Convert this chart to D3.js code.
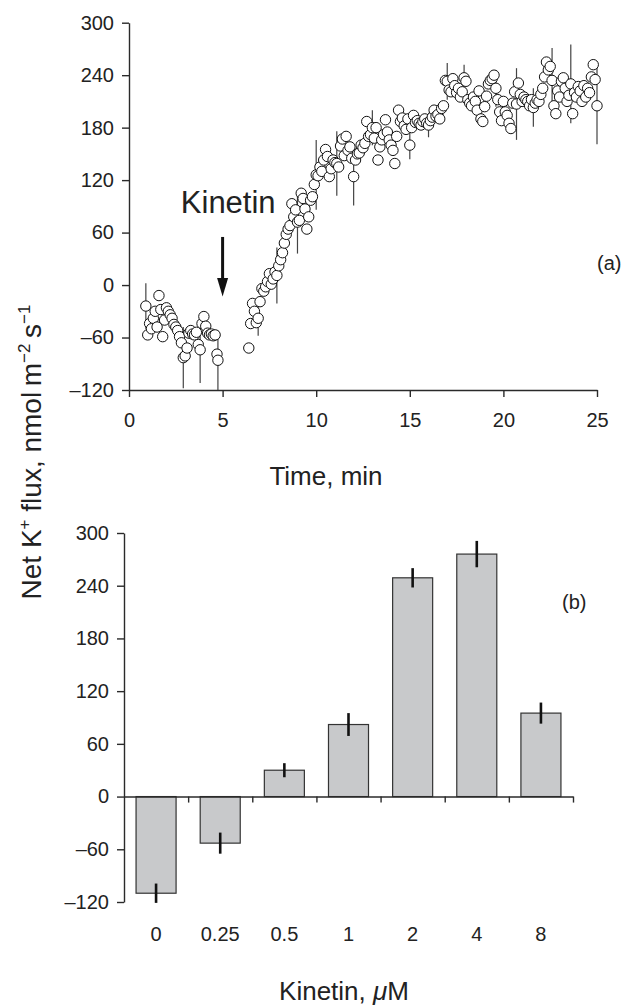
<!DOCTYPE html>
<html>
<head>
<meta charset="utf-8">
<script src="https://cdn.jsdelivr.net/npm/d3@7"></script>
<style>
  body { margin:0; background:white; }
  svg text { font-family: "Liberation Sans", Arial, sans-serif; fill:#222; }
</style>
</head>
<body>
<div id="chart"></div>
<script>
// (a) net K+ flux time course, kinetin added at 5 min
var timeMin = [
  0.9,1.0,1.1,1.2,1.3,1.4,1.5,1.6,1.7,1.8,1.9,2.0,2.1,2.2,2.3,2.4,2.5,2.6,2.7,2.8,
  2.9,3.0,3.1,3.2,3.3,3.4,3.5,3.6,3.7,3.8,3.9,4.0,4.1,4.2,4.3,4.4,4.5,4.6,4.7,4.75,
  6.4,6.5,6.6,6.7,6.8,6.9,7.0,7.1,7.2,7.3,7.4,7.5,7.6,7.7,7.8,7.9,8.0,8.1,8.2,8.3,
  8.4,8.5,8.6,8.7,8.8,8.9,9.0,9.1,9.2,9.3,9.4,9.5,9.6,9.7,9.8,9.9,10.0,10.1,10.2,10.3,
  10.4,10.5,10.6,10.7,10.8,10.9,11.0,11.1,11.2,11.3,11.4,11.5,11.6,11.7,11.8,11.9,12.0,12.1,12.2,12.3,
  12.4,12.5,12.6,12.7,12.8,12.9,13.0,13.1,13.2,13.3,13.4,13.5,13.6,13.7,13.8,13.9,14.0,14.1,14.2,14.3,
  14.4,14.5,14.6,14.7,14.8,14.9,15.0,15.1,15.2,15.3,15.4,15.5,15.6,15.7,15.8,15.9,16.0,16.1,16.2,16.3,
  16.4,16.5,16.6,16.7,16.8,16.9,17.0,17.1,17.2,17.3,17.4,17.5,17.6,17.7,17.8,17.9,18.0,18.1,18.2,18.3,
  18.4,18.5,18.6,18.7,18.8,18.9,19.0,19.1,19.2,19.3,19.4,19.5,19.6,19.7,19.8,19.9,20.0,20.1,20.2,20.3,
  20.4,20.5,20.6,20.7,20.8,20.9,21.0,21.1,21.2,21.3,21.4,21.5,21.6,21.7,21.8,21.9,22.0,22.1,22.2,22.3,
  22.4,22.5,22.6,22.7,22.8,22.9,23.0,23.1,23.2,23.3,23.4,23.5,23.6,23.7,23.8,23.9,24.0,24.1,24.2,24.3,
  24.4,24.5,24.6,24.7,24.8,24.9,25.0
];
var fluxK = [
  -24,-57,-44,-50,-38,-30,-48,-12,-28,-59,-40,-26,-30,-34,-38,-45,-48,-52,-59,-66,
  -83,-81,-72,-55,-52,-56,-57,-54,-68,-74,-44,-36,-47,-55,-57,-56,-58,-57,-79,-86,
  -72,-44,-21,-30,-43,-38,-19,-4,-7,-2,4,13,1,7,15,11,22,29,37,48,
  58,64,68,93,78,86,72,74,105,99,87,64,78,97,101,115,126,125,135,130,
  143,155,147,124,133,143,140,139,135,159,167,148,170,154,158,145,124,143,150,151,
  160,157,162,187,170,172,180,168,180,143,158,166,172,189,175,166,160,154,139,170,
  200,187,191,182,178,190,160,180,194,186,188,185,183,187,190,185,183,188,192,200,
  193,195,190,202,205,234,233,223,221,236,228,220,225,215,221,237,233,212,208,205,
  215,210,200,222,190,187,204,216,230,234,236,240,225,212,198,188,210,198,194,185,
  179,208,221,207,231,218,210,215,212,210,205,212,203,208,212,210,218,225,238,255,
  246,250,234,205,196,222,215,233,237,225,210,217,230,196,220,215,227,222,210,228,
  215,225,220,238,252,235,205
];
// error bars drawn at selected points only
var errTime = [0.9, 2.9, 3.8, 4.75, 6.9, 7.9, 9.0, 10.0, 11.1, 12.0, 13.0, 15.0, 16.0, 17.0, 17.9, 19.6, 20.7, 21.6, 22.6, 23.6, 25.0];
var errMean = [-24, -83, -74, -86, -38, 11, 72, 126, 139, 124, 180, 160, 183, 233, 237, 225, 207, 203, 234, 230, 205];
var errSd   = [26, 35, 38, 34, 20, 32, 36, 40, 37, 33, 20, 16, 14, 21, 15, 21, 41, 22, 37, 45, 44];

// (b) flux vs kinetin concentration
var kinetinConc = ["0", "0.25", "0.5", "1", "2", "4", "8"];
var fluxMean = [-110, -53, 30, 82, 249, 276, 95];
var fluxErr  = [11, 12, 8, 13, 11, 15, 12];

var fluxTicks = [-120, -60, 0, 60, 120, 180, 240, 300];
var timeTicks = [0, 5, 10, 15, 20, 25];

var W = 624, H = 1005;
var axisColor = '#2a2a2a';
var fmt = function(d) { return d < 0 ? '\u2013' + Math.abs(d) : d; };

var svg = d3.select('#chart').append('svg')
  .attr('width', W)
  .attr('height', H);

function styleAxis(g, fs) {
  g.selectAll('path, line').attr('stroke', axisColor).attr('stroke-width', 1.4);
  g.selectAll('text').attr('font-size', fs).attr('fill', '#222')
    .style('font-family', '"Liberation Sans", Arial, sans-serif');
}

// ---------- panel (a) ----------
var x = d3.scaleLinear().domain([0, 25]).range([129, 597]);
var y = d3.scaleLinear().domain([-120, 300]).range([390, 22.7]);

svg.append('g')
  .attr('transform', 'translate(0,' + y(-120) + ')')
  .call(d3.axisBottom(x).tickValues(timeTicks).tickSize(7).tickPadding(16).tickSizeOuter(0))
  .call(styleAxis, 20);

svg.append('g')
  .attr('transform', 'translate(' + x(0) + ',0)')
  .call(d3.axisLeft(y).tickValues(fluxTicks).tickFormat(fmt).tickSize(7).tickPadding(8).tickSizeOuter(0))
  .call(styleAxis, 20);

var pts = timeMin.map(function(t, i) { return {t: t, v: fluxK[i]}; });
var errs = errTime.map(function(t, i) { return {t: t, m: errMean[i], s: errSd[i]}; });

svg.append('g').selectAll('line')
  .data(errs)
  .enter().append('line')
    .attr('x1', function(d) { return x(d.t); })
    .attr('x2', function(d) { return x(d.t); })
    .attr('y1', function(d) { return y(d.m + d.s); })
    .attr('y2', function(d) { return y(d.m - d.s); })
    .attr('stroke', '#444')
    .attr('stroke-width', 1.2);

svg.append('g').selectAll('circle')
  .data(pts)
  .enter().append('circle')
    .attr('cx', function(d) { return x(d.t); })
    .attr('cy', function(d) { return y(d.v); })
    .attr('r', 5.2)
    .attr('fill', 'white')
    .attr('stroke', '#111')
    .attr('stroke-width', 1);

// kinetin arrow + label
var ax = x(5);
svg.append('line')
  .attr('x1', ax).attr('x2', ax)
  .attr('y1', y(55)).attr('y2', y(8))
  .attr('stroke', '#111').attr('stroke-width', 3);
svg.append('path')
  .attr('d', 'M' + (ax - 5.5) + ',' + y(8) + 'L' + (ax + 5.5) + ',' + y(8) + 'L' + ax + ',' + y(-13) + 'Z')
  .attr('fill', '#111');
svg.append('text')
  .attr('x', x(5.3)).attr('y', y(82))
  .attr('text-anchor', 'middle')
  .attr('font-size', 31)
  .text('Kinetin');

svg.append('text')
  .attr('x', 597).attr('y', 270)
  .attr('font-size', 20)
  .text('(a)');

svg.append('text')
  .attr('x', 326).attr('y', 485)
  .attr('text-anchor', 'middle')
  .attr('font-size', 26)
  .text('Time, min');

// ---------- panel (b) ----------
var xb = d3.scaleBand().domain(kinetinConc).range([124, 573]).paddingInner(0.376).paddingOuter(0.188);
var yb = d3.scaleLinear().domain([-120, 300]).range([902, 533]);
var step = xb.step();

svg.append('g').selectAll('rect')
  .data(fluxMean)
  .enter().append('rect')
    .attr('x', function(d, i) { return xb(kinetinConc[i]); })
    .attr('width', xb.bandwidth())
    .attr('y', function(d) { return yb(Math.max(0, d)); })
    .attr('height', function(d) { return Math.abs(yb(d) - yb(0)); })
    .attr('fill', '#c8c9cb')
    .attr('stroke', '#333')
    .attr('stroke-width', 1.2);

svg.append('g').selectAll('line')
  .data(fluxMean)
  .enter().append('line')
    .attr('x1', function(d, i) { return xb(kinetinConc[i]) + xb.bandwidth() / 2; })
    .attr('x2', function(d, i) { return xb(kinetinConc[i]) + xb.bandwidth() / 2; })
    .attr('y1', function(d, i) { return yb(d + fluxErr[i]); })
    .attr('y2', function(d, i) { return yb(d - fluxErr[i]); })
    .attr('stroke', '#111')
    .attr('stroke-width', 2.6);

// zero line with ticks at category boundaries
var bounds = d3.scaleLinear().domain([0, kinetinConc.length]).range([124, 124 + step * kinetinConc.length]);
svg.append('g')
  .attr('transform', 'translate(0,' + yb(0) + ')')
  .call(d3.axisBottom(bounds).tickValues(d3.range(1, kinetinConc.length + 1)).tickFormat('').tickSize(6).tickSizeOuter(0))
  .call(styleAxis, 20);

svg.append('g')
  .attr('transform', 'translate(124,0)')
  .call(d3.axisLeft(yb).tickValues(fluxTicks).tickFormat(fmt).tickSize(7).tickPadding(8).tickSizeOuter(0))
  .call(styleAxis, 20);

// category labels below the plot
var catAxis = svg.append('g')
  .attr('transform', 'translate(0,' + yb(-120) + ')')
  .call(d3.axisBottom(xb).tickSize(0).tickPadding(25))
  .call(styleAxis, 20);
catAxis.select('.domain').remove();

svg.append('text')
  .attr('x', 562).attr('y', 609)
  .attr('font-size', 20)
  .text('(b)');

var xt = svg.append('text')
  .attr('x', 344).attr('y', 1000)
  .attr('text-anchor', 'middle')
  .attr('font-size', 26);
xt.append('tspan').text('Kinetin, ');
xt.append('tspan').attr('font-style', 'italic').text('\u03bc');
xt.append('tspan').text('M');

// shared y title
var yt = svg.append('text')
  .attr('transform', 'translate(41,452) rotate(-90)')
  .attr('text-anchor', 'middle')
  .attr('font-size', 28);
yt.append('tspan').text('Net K');
yt.append('tspan').attr('font-size', 17).attr('dy', -11).text('+');
yt.append('tspan').attr('dy', 11).text(' flux, nmol\u2009m');
yt.append('tspan').attr('font-size', 17).attr('dy', -11).text('\u22122');
yt.append('tspan').attr('dy', 11).text('\u2009s');
yt.append('tspan').attr('font-size', 17).attr('dy', -11).text('\u22121');
</script>
</body>
</html>
